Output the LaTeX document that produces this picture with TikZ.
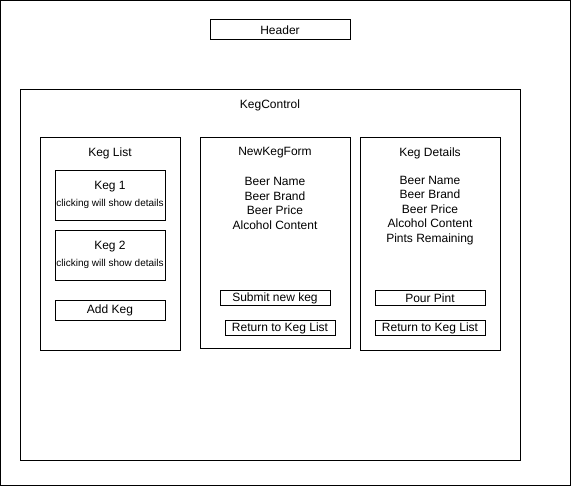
\documentclass[tikz,border=0pt]{standalone}
\usepackage{fontspec}
\setmainfont{Liberation Sans}
\usetikzlibrary{positioning}

\begin{document}
\begin{tikzpicture}[x=1pt, y=-1pt,
    box/.style={draw, line width=1pt, inner sep=0pt},
    txt/.style={font=\fontsize{12}{14.4}\selectfont, align=center}]
    \useasboundingbox (0,0) rectangle (571,487);

    % Page and header
    \node[box, minimum width=569.5pt, minimum height=484.5pt] (page) at (285.25,242.75) {};
    \node[box, txt, minimum width=140pt, minimum height=20pt] (header) at (280,30) {Header};

    % KegControl
    \node[box, minimum width=500pt, minimum height=370pt] (control) at (270,275) {};
    \node[txt] (controllbl) at (270,105) {KegControl};

    % Keg list
    \node[box, minimum width=140pt, minimum height=212pt] (list) at (110,244) {};
    \node[txt] (listlbl) at (110,153) {Keg List};
    \node[box, txt, minimum width=110pt, minimum height=50pt] (keg1) at (110,195)
        {Keg 1\\[2pt]{\fontsize{10}{12}\selectfont clicking will show details}};
    \node[box, txt, minimum width=110pt, minimum height=50pt] (keg2) at (110,255)
        {Keg 2\\[2pt]{\fontsize{10}{12}\selectfont clicking will show details}};
    \node[box, txt, minimum width=110pt, minimum height=20pt] (addkeg) at (110,310) {Add Keg};

    % New keg form
    \node[box, minimum width=150pt, minimum height=210pt] (form) at (275,243) {};
    \node[txt] (formlbl) at (275,153) {NewKegForm};
    \node[txt] (formfields) at (275,203.5) {Beer Name\\Beer Brand\\Beer Price\\Alcohol Content};
    \node[box, txt, minimum width=110pt, minimum height=15pt] (submit) at (275,298) {Submit new keg};
    \node[box, txt, minimum width=110pt, minimum height=15pt] (formback) at (280,328) {Return to Keg List};

    % Keg details
    \node[box, minimum width=140pt, minimum height=212pt] (details) at (430,244) {};
    \node[txt] (detailslbl) at (430,153) {Keg Details};
    \node[txt] (detailsfields) at (430,210.5) {Beer Name\\Beer Brand\\Beer Price\\Alcohol Content\\Pints Remaining};
    \node[box, txt, minimum width=110pt, minimum height=15pt] (pour) at (430,298) {Pour Pint};
    \node[box, txt, minimum width=110pt, minimum height=15pt] (detailsback) at (430,328) {Return to Keg List};
\end{tikzpicture}
\end{document}
